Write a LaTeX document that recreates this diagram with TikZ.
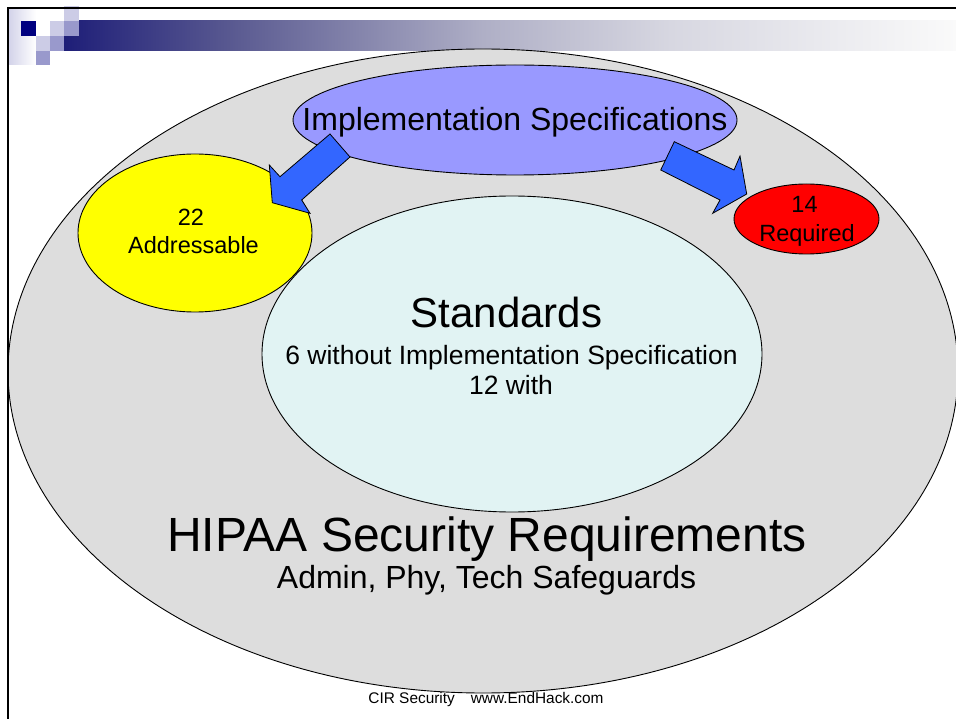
\documentclass[tikz,border=0pt]{standalone}
\usepackage{fontspec}
\setmainfont{Liberation Sans}
\definecolor{hgray}{HTML}{DDDDDD}
\definecolor{hlav}{HTML}{9999FF}
\definecolor{hcyan}{HTML}{E1F3F3}
\definecolor{hblue}{HTML}{3366FF}
\definecolor{hyellow}{HTML}{FFFF00}
\definecolor{hred}{HTML}{FF0000}
\definecolor{sqdark}{HTML}{000080}
\definecolor{sqmid}{HTML}{9999CC}
\definecolor{sqlight}{HTML}{CCCCE6}
\definecolor{bc0}{RGB}{30,30,120}
\definecolor{bc1}{RGB}{90,90,145}
\definecolor{bc2}{RGB}{175,175,198}
\definecolor{bc3}{RGB}{215,215,225}
\definecolor{bc4}{RGB}{250,250,250}
\pgfdeclarehorizontalshading{barshade}{100bp}{color(0bp)=(bc0); color(25bp)=(bc0); color(34.5bp)=(bc1); color(48.5bp)=(bc2); color(59bp)=(bc3); color(75bp)=(bc4); color(100bp)=(bc4)}
\newcommand{\fsz}[1]{\fontsize{#1pt}{#1pt}\selectfont}
\tikzset{
  shapeline/.style={draw=black, line width=0.9pt},
  blockarrow/.style={draw=black, line width=0.8pt, fill=hblue, line join=miter},
  txt/.style={inner sep=0pt, anchor=base, text=black},
}
\begin{document}
\begin{tikzpicture}[x=1pt,y=-1pt]
\useasboundingbox (0,0) rectangle (956,719);
\fill[white] (0,0) rectangle (956,719);
% header decoration
\shade[left color=sqlight!85!white, right color=white] (9,9) rectangle (36,65);
\shade[shading=barshade] (64,21) rectangle (956,51);
\fill[sqdark] (21,21) rectangle (36,36);
\fill[sqlight] (64,6) rectangle (79,21);
\fill[sqlight] (50,21) rectangle (64,36);
\fill[sqlight] (36,36) rectangle (50,51);
\fill[sqmid] (64,21) rectangle (79,36);
\fill[sqmid] (50,36) rectangle (64,51);
\fill[sqmid] (36,51) rectangle (50,65);
% ellipses
\draw[shapeline, fill=hgray] (483,371) ellipse [x radius=475pt, y radius=322pt];
\draw[shapeline, fill=hlav] (515,120) ellipse [x radius=222pt, y radius=55pt];
\draw[shapeline, fill=hyellow] (195,233) ellipse [x radius=117pt, y radius=79pt];
\draw[shapeline, fill=hcyan] (512,354) ellipse [x radius=250pt, y radius=158pt];
\draw[shapeline, fill=hred] (806.5,219) ellipse [x radius=72.5pt, y radius=35pt];
% block arrows
\draw[blockarrow] (330,134) -- (350,157) -- (301.7,200) -- (310,213.3) -- (272.3,202.7) -- (269.3,165) -- (280,176.7) -- cycle;
\draw[blockarrow] (674.3,141.7) -- (734,170) -- (740,156) -- (746.7,194) -- (712.7,213.3) -- (720,200) -- (660.7,170) -- cycle;
% texts
\node[txt] (impl) at (515,131) {\fsz{32}Implementation Specifications};
\node[txt] (addnum) at (191,226) {\fsz{23.5}22};
\node[txt] (addtxt) at (193.5,254) {\fsz{23.5}Addressable};
\node[txt] (reqnum) at (804.5,213) {\fsz{23.5}14};
\node[txt] (reqtxt) at (807,242) {\fsz{23.5}Required};
\node[txt] (std) at (506.5,328) {\fsz{42}Standards};
\node[txt] (std1) at (511.5,364) {\fsz{26.5}6 without Implementation Specification};
\node[txt] (std2) at (511,394) {\fsz{26.5}12 with};
\node[txt] (hipaa) at (487,551) {\fsz{48}HIPAA Security Requirements};
\node[txt] (safe) at (486.5,588) {\fsz{32}Admin, Phy, Tech Safeguards};
\node[txt] (foot) at (486,703) {\fsz{15.4}CIR Security\hspace{16pt}www.EndHack.com};
% frame
\draw[black, line width=2.5pt] (8,719) -- (8,8) -- (957,8);
\end{tikzpicture}
\end{document}
